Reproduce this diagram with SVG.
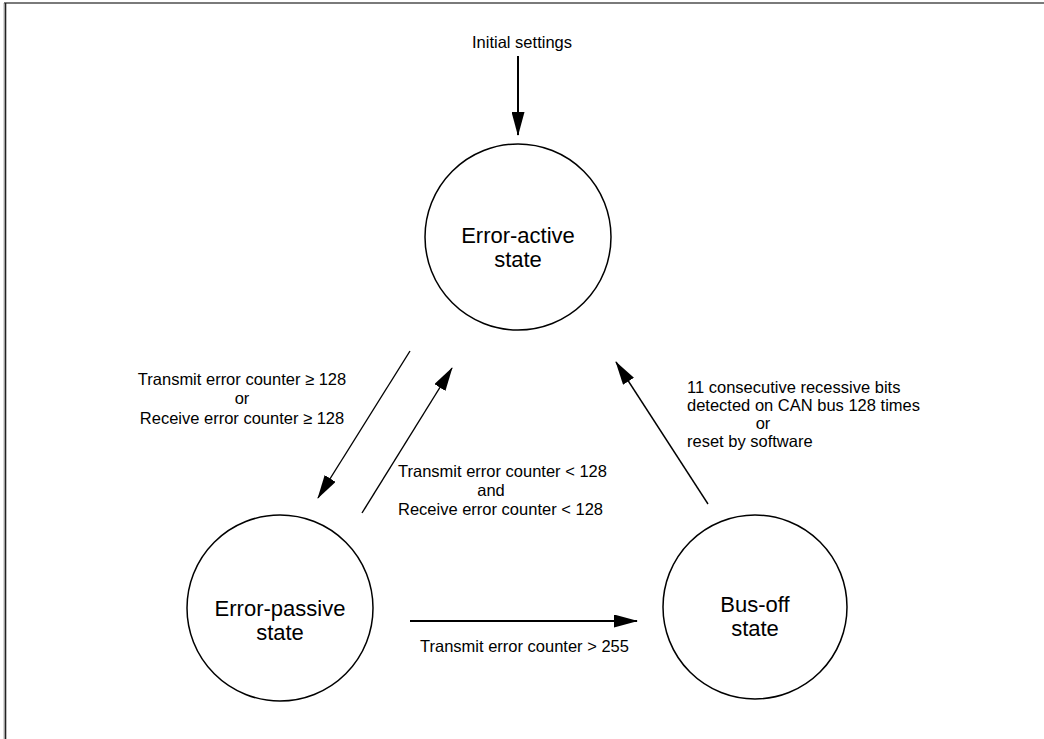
<svg xmlns="http://www.w3.org/2000/svg" width="1044" height="739" viewBox="0 0 1044 739">
<style>
.node{fill:#fff;stroke:#000;stroke-width:1.5}
.ntext{font-family:"Liberation Sans",Arial,sans-serif;font-size:22px;fill:#000;text-anchor:middle}
.lbl{font-family:"Liberation Sans",Arial,sans-serif;font-size:16.5px;fill:#000}
.edge{stroke:#000;stroke-width:1.4;fill:none;marker-end:url(#ah)}
.edge2{stroke:#000;stroke-width:2;fill:none;marker-end:url(#ah)}
</style>
<defs>
<marker id="ah" viewBox="0 0 24 13" refX="23" refY="6.5" markerWidth="24" markerHeight="13" markerUnits="userSpaceOnUse" orient="auto">
<path d="M0,0 L24,6.5 L0,13 Z" fill="#000"/>
</marker>
</defs>
<rect width="1044" height="739" fill="#fff"/>
<g id="border">
<line x1="4" y1="3" x2="1044" y2="3" stroke="#7a7a7a" stroke-width="2"/>
<line x1="4" y1="3" x2="4" y2="739" stroke="#b0b0b0" stroke-width="1"/>
<line x1="5.5" y1="3" x2="5.5" y2="739" stroke="#222" stroke-width="1.6"/>
</g>
<g id="connectors">
<line class="edge2" x1="518" y1="56" x2="518" y2="135"/>
<line class="edge" x1="410" y1="351" x2="318" y2="498"/>
<line class="edge" x1="362" y1="513" x2="452" y2="368"/>
<line class="edge" x1="708" y1="504" x2="616" y2="362"/>
<line class="edge2" x1="410" y1="621" x2="637" y2="621"/>
</g>
<g id="labels">
<text class="lbl" x="522" y="48" text-anchor="middle">Initial settings</text>
<text class="lbl" x="242" y="385" text-anchor="middle">Transmit error counter ≥ 128</text>
<text class="lbl" x="242" y="404" text-anchor="middle">or</text>
<text class="lbl" x="242" y="424" text-anchor="middle">Receive error counter ≥ 128</text>
<text class="lbl" x="398" y="477">Transmit error counter &lt; 128</text>
<text class="lbl" x="491" y="496" text-anchor="middle">and</text>
<text class="lbl" x="398" y="515">Receive error counter &lt; 128</text>
<text class="lbl" x="687" y="393">11 consecutive recessive bits</text>
<text class="lbl" x="687" y="411">detected on CAN bus 128 times</text>
<text class="lbl" x="763" y="429" text-anchor="middle">or</text>
<text class="lbl" x="687" y="447">reset by software</text>
<text class="lbl" x="420" y="652">Transmit error counter &gt; 255</text>
</g>
<g id="error-active">
<circle class="node" cx="518" cy="237" r="93"/>
<text class="ntext" x="518" y="243">Error-active</text>
<text class="ntext" x="518" y="267">state</text>
</g>
<g id="error-passive">
<circle class="node" cx="280" cy="608" r="93"/>
<text class="ntext" x="280" y="616">Error-passive</text>
<text class="ntext" x="280" y="640">state</text>
</g>
<g id="bus-off">
<circle class="node" cx="755" cy="607" r="92"/>
<text class="ntext" x="755" y="612">Bus-off</text>
<text class="ntext" x="755" y="636">state</text>
</g>
</svg>
